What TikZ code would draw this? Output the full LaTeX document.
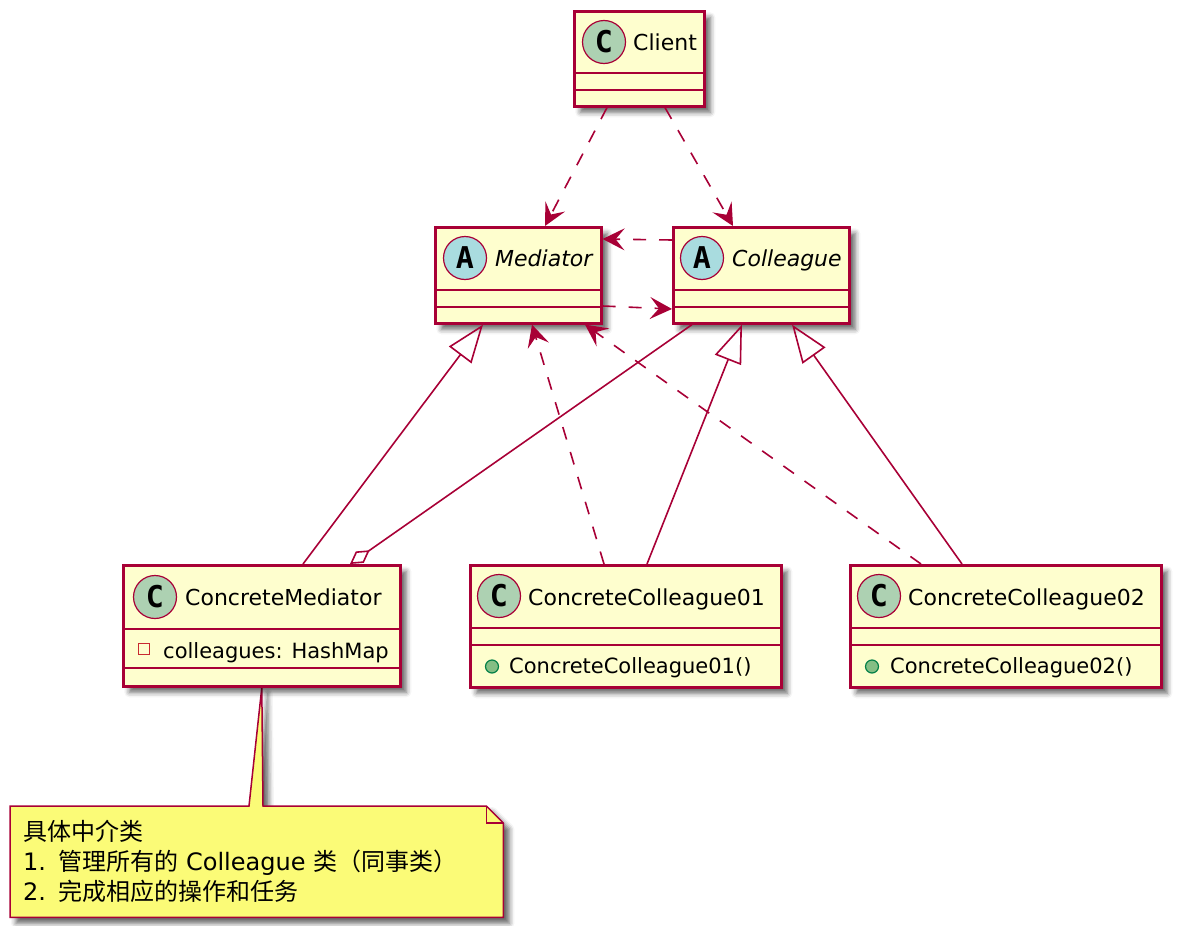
\documentclass[tikz,border=0pt]{standalone}
\usepackage{fontspec}
\newfontfamily\clsfont{DejaVu Sans}
\newfontfamily\letterfont{DejaVu Sans Mono}
\newfontfamily\cjkfont{Noto Sans CJK SC}
\usetikzlibrary{arrows.meta,calc,shadows.blur,backgrounds}
\definecolor{umlfill}{HTML}{FEFECE}
\definecolor{umlborder}{HTML}{A80036}
\definecolor{notefill}{HTML}{FBFB77}
\definecolor{cfill}{HTML}{ADD1B2}
\definecolor{afill}{HTML}{A9DCDF}
\definecolor{privred}{HTML}{C82930}
\definecolor{pubgreen}{HTML}{038048}
\definecolor{pubfill}{HTML}{84BE84}
\begin{document}
\begin{tikzpicture}[x=1pt,y=-1pt,
  umlshadow/.style={blur shadow={shadow xshift=6pt, shadow yshift=-6pt, shadow blur radius=5pt, shadow opacity=60}},
  classbox/.style={draw=umlborder, fill=umlfill, line width=2.6pt, anchor=north west, inner sep=0pt, umlshadow},
  sepline/.style={draw=umlborder, line width=2.4pt},
  icon/.style={circle, draw=umlborder, line width=1.2pt, minimum size=43pt, inner sep=0pt, font=\letterfont\bfseries\fontsize{30}{30}\selectfont},
  cname/.style={anchor=base west, inner sep=0pt, font=\clsfont\fontsize{22}{26}\selectfont},
  aname/.style={cname, font=\clsfont\itshape\fontsize{22}{26}\selectfont},
  member/.style={anchor=base west, inner sep=0pt, font=\clsfont\fontsize{21}{25}\selectfont},
  pubmark/.style={circle, fill=pubfill, draw=pubgreen, line width=1.2pt, minimum size=13pt, inner sep=0pt},
  privmark/.style={draw=privred, line width=1.4pt, minimum size=11pt, inner sep=0pt},
  dep/.style={draw=umlborder, line width=1.6pt, dash pattern=on 13pt off 13pt, -{Stealth[length=22pt,width=22pt,inset=9pt]}},
  inherit/.style={draw=umlborder, line width=1.6pt, -{Triangle[open,length=38pt,width=28pt]}},
  aggr/.style={draw=umlborder, line width=1.6pt, -{Diamond[open,length=24pt,width=14pt]}},
  notebox/.style={anchor=north west, inner xsep=13pt, inner ysep=0pt, align=left, text width=467pt, minimum height=111pt, font=\cjkfont\fontsize{24}{30}\selectfont},
  noteshape/.style={draw=umlborder, fill=notefill, line width=1.5pt, umlshadow}
]
\useasboundingbox (0,0) rectangle (1178,926);

% ---------- class boxes ----------
\node[classbox, minimum width=130pt, minimum height=95pt] (client) at (573,10) {};
\node[classbox, minimum width=166pt, minimum height=96pt] (mediator) at (434,226) {};
\node[classbox, minimum width=176pt, minimum height=96pt] (colleague) at (672,226) {};
\node[classbox, minimum width=277pt, minimum height=121pt] (cm) at (122,564) {};
\node[classbox, minimum width=311pt, minimum height=122pt] (cc1) at (469,564) {};
\node[classbox, minimum width=311pt, minimum height=122pt] (cc2) at (849,564) {};

% separators
\foreach \b/\h/\s in {client/63/80, mediator/64/81, colleague/64/81, cm/65/104, cc1/64/81, cc2/64/81}{
  \draw[sepline] ($(\b.north west)+(0,\h)$) -- ($(\b.north east)+(0,\h)$);
  \draw[sepline] ($(\b.north west)+(0,\s)$) -- ($(\b.north east)+(0,\s)$);
}

% icons and names
\node[icon, fill=cfill] (iclient) at (604,42) {C};
\node[cname] (tclient) at (633,50) {Client};
\node[icon, fill=afill] (imediator) at (465,258) {A};
\node[aname] (tmediator) at (495,266) {Mediator};
\node[icon, fill=afill] (icolleague) at (702,258) {A};
\node[aname] (tcolleague) at (732,266) {Colleague};
\node[icon, fill=cfill] (icm) at (155,597) {C};
\node[cname] (tcm) at (185,605) {ConcreteMediator};
\node[icon, fill=cfill] (icc1) at (499,596) {C};
\node[cname] (tcc1) at (528,605) {ConcreteColleague01};
\node[icon, fill=cfill] (icc2) at (879,596) {C};
\node[cname] (tcc2) at (908,605) {ConcreteColleague02};

% members
\node[privmark] (pcm) at (144,649) {};
\node[member] (acm) at (163,658) {colleagues: HashMap};
\node[pubmark] (pcc1) at (492,666.5) {};
\node[member] (mcc1) at (509,673) {ConcreteColleague01()};
\node[pubmark] (pcc2) at (872,666.5) {};
\node[member] (mcc2) at (890,673) {ConcreteColleague02()};

% ---------- note ----------
\node[notebox] (note) at (10,806) {具体中介类\\{\clsfont 1. }管理所有的{\clsfont{} Colleague }类（同事类）\\{\clsfont 2. }完成相应的操作和任务};
\begin{pgfonlayer}{background}
\path[noteshape] (note.north west) -- ($(note.north west)+(239,0)$) -- (cm.south)
  -- ($(note.north west)+(253,0)$) -- ($(note.north east)+(-17,0)$)
  -- ($(note.north east)+(0,17)$) -- (note.south east) -- (note.south west) -- cycle;
\draw[draw=umlborder, line width=1.5pt] ($(note.north east)+(-17,0)$) -- ($(note.north east)+(-17,17)$) -- ($(note.north east)+(0,17)$);
\end{pgfonlayer}

% ---------- connectors ----------
\draw[dep] ([xshift=34pt]client.south west) -- ([xshift=111pt]mediator.north west);
\draw[dep] ([xshift=92pt]client.south west) -- ([xshift=61pt]colleague.north west);
\draw[dep] ([yshift=-14pt]colleague.north west) -- ([yshift=-13pt]mediator.north east);
\draw[dep] ([yshift=-80pt]mediator.north east) -- ([yshift=-83pt]colleague.north west);
\draw[inherit] ([xshift=181pt]cm.north west) -- ([xshift=49pt]mediator.south west);
\draw[aggr] ([xshift=20pt]colleague.south west) -- ([xshift=228pt]cm.north west);
\draw[dep] ([xshift=135pt]cc1.north west) -- ([xshift=98pt]mediator.south west);
\draw[inherit] ([xshift=178pt]cc1.north west) -- ([xshift=70pt]colleague.south west);
\draw[dep] ([xshift=72pt]cc2.north west) -- ([xshift=151pt]mediator.south west);
\draw[inherit] ([xshift=113pt]cc2.north west) -- ([xshift=120pt]colleague.south west);
\end{tikzpicture}
\end{document}
